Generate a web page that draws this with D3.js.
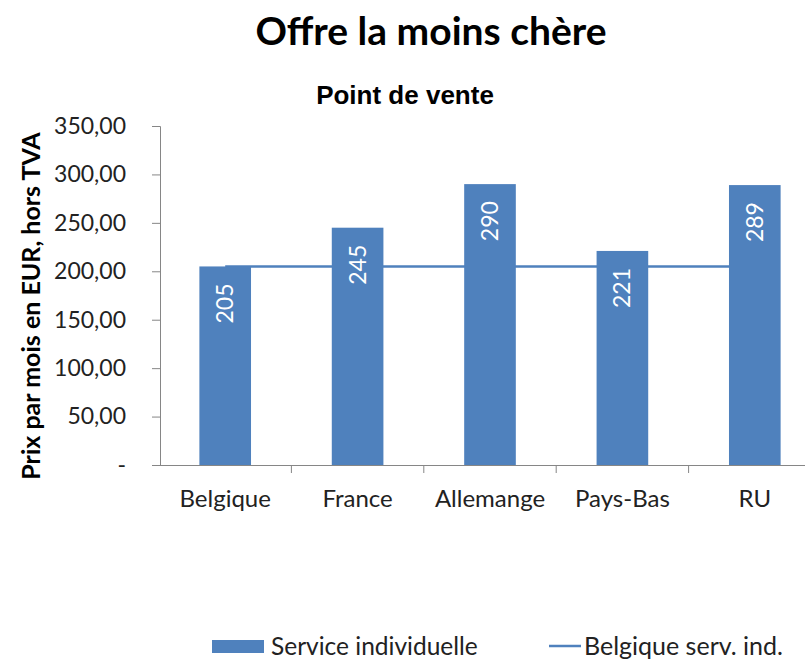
<!DOCTYPE html>
<html>
<head>
<meta charset="utf-8">
<script src="https://cdn.jsdelivr.net/npm/d3@7"></script>
<style>
  body { margin: 0; background: #fff; }
  svg { display: block; }
</style>
</head>
<body>
<svg id="chart" width="805" height="659"></svg>
<script>
// data
const categories = ["Belgique", "France", "Allemange", "Pays-Bas", "RU"];
const serviceIndividuelle = [205, 245, 290, 221, 289];
const belgiqueRef = [205, 205, 205, 205, 205];
const yTicks = [0, 50, 100, 150, 200, 250, 300, 350];

const barColor = "#4F81BD";
const svg = d3.select("#chart");

const frLocale = d3.formatLocale({ decimal: ",", thousands: " ", grouping: [3], currency: ["", " €"] });
const fmt = frLocale.format(".2f");

const x = d3.scaleBand().domain(categories).range([159, 821]).paddingInner(0.61).paddingOuter(0.305);
const y = d3.scaleLinear().domain([0, 350]).range([465, 126]);

// titles
svg.append("text")
  .attr("x", 431).attr("y", 45)
  .attr("text-anchor", "middle")
  .style("font-family", "Lato, sans-serif")
  .style("font-weight", "bold")
  .style("font-size", "39px")
  .text("Offre la moins chère");

svg.append("text")
  .attr("x", 405).attr("y", 104)
  .attr("text-anchor", "middle")
  .style("font-family", "'Liberation Sans', Arial, sans-serif")
  .style("font-weight", "bold")
  .style("font-size", "26px")
  .text("Point de vente");

svg.append("text")
  .attr("transform", "translate(40,306) rotate(-90)")
  .attr("text-anchor", "middle")
  .style("font-family", "Lato, sans-serif")
  .style("font-weight", "bold")
  .style("font-size", "25px")
  .text("Prix par mois en EUR, hors TVA");

// y axis
const yAxis = svg.append("g")
  .attr("transform", "translate(160,0)")
  .call(d3.axisLeft(y).tickValues(yTicks).tickSize(8).tickPadding(26)
    .tickFormat((d) => (d === 0 ? "-" : fmt(d))));
yAxis.select(".domain").attr("stroke", "#868686");
yAxis.selectAll(".tick line").attr("stroke", "#868686");
yAxis.selectAll(".tick text")
  .attr("fill", "#222")
  .style("font-family", "Lato, sans-serif")
  .style("font-size", "23px");

// x axis
const xAxis = svg.append("g")
  .attr("transform", `translate(0,${y(0)})`)
  .call(d3.axisBottom(x).tickSize(0).tickPadding(24));
xAxis.select(".domain").attr("stroke", "#868686");
xAxis.selectAll(".tick text")
  .attr("fill", "#222")
  .attr("dy", null)
  .attr("y", 42)
  .style("font-family", "Lato, sans-serif")
  .style("font-size", "24px");
xAxis.selectAll(".sep")
  .data(categories.slice(1))
  .join("line")
  .attr("class", "sep")
  .attr("x1", (d) => x(d) - x.step() * x.paddingInner() / 2)
  .attr("x2", (d) => x(d) - x.step() * x.paddingInner() / 2)
  .attr("y1", 0).attr("y2", 8)
  .attr("stroke", "#868686");

// reference line, behind bars
const line = d3.line()
  .x((d, i) => x(categories[i]) + x.bandwidth() / 2)
  .y((d) => y(d));
svg.append("path")
  .datum(belgiqueRef)
  .attr("d", line)
  .attr("fill", "none")
  .attr("stroke", barColor)
  .attr("stroke-width", 2.5);

// bars
svg.selectAll(".bar")
  .data(serviceIndividuelle)
  .join("rect")
  .attr("class", "bar")
  .attr("x", (d, i) => x(categories[i]))
  .attr("width", x.bandwidth())
  .attr("y", (d) => y(d))
  .attr("height", (d) => y(0) - y(d))
  .attr("fill", barColor);

// value labels
svg.selectAll(".rect-label")
  .data(serviceIndividuelle)
  .join("text")
  .attr("class", "rect-label")
  .attr("transform", (d, i) =>
    `translate(${x(categories[i]) + x.bandwidth() / 2 + 8},${y(d) + 17}) rotate(-90)`)
  .attr("text-anchor", "end")
  .attr("fill", "#fff")
  .style("font-family", "Lato, sans-serif")
  .style("font-size", "23px")
  .text((d) => d);

// legend
const legend = svg.append("g").attr("class", "legend");
legend.append("rect")
  .attr("x", 212).attr("y", 640).attr("width", 52).attr("height", 13)
  .attr("fill", barColor);
legend.append("text")
  .attr("x", 271).attr("y", 655)
  .attr("fill", "#222")
  .style("font-family", "Lato, sans-serif")
  .style("font-size", "24.5px")
  .text("Service individuelle");
legend.append("line")
  .attr("x1", 549).attr("x2", 581).attr("y1", 646).attr("y2", 646)
  .attr("stroke", barColor).attr("stroke-width", 2.5);
legend.append("text")
  .attr("x", 584).attr("y", 655)
  .attr("fill", "#222")
  .style("font-family", "Lato, sans-serif")
  .style("font-size", "25px")
  .text("Belgique serv. ind.");
</script>
</body>
</html>
